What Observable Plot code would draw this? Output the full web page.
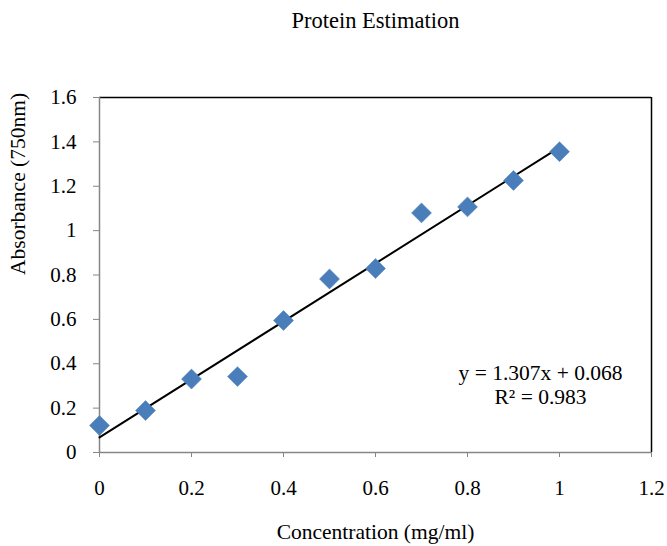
<!DOCTYPE html>
<html>
<head>
<meta charset="utf-8">
<script src="https://cdn.jsdelivr.net/npm/d3@7"></script>
<script src="https://cdn.jsdelivr.net/npm/@observablehq/plot@0.6"></script>
<style>
  html, body { margin: 0; padding: 0; background: #fff; }
  #chart svg { display: block; }
  #chart svg, #chart svg text { font-family: "Liberation Serif", serif !important; }
</style>
</head>
<body>
<div id="chart"></div>
<script>
const concentration = [0, 0.1, 0.2, 0.3, 0.4, 0.5, 0.6, 0.7, 0.8, 0.9, 1.0];
const absorbance = [0.122, 0.189, 0.331, 0.342, 0.595, 0.782, 0.829, 1.08, 1.107, 1.226, 1.356];
const slope = 1.307;
const intercept = 0.068;
const xTicks = [0, 0.2, 0.4, 0.6, 0.8, 1, 1.2];
const yTicks = [0, 0.2, 0.4, 0.6, 0.8, 1, 1.2, 1.4, 1.6];
const title = "Protein Estimation";
const xLabel = "Concentration (mg/ml)";
const yLabel = "Absorbance (750nm)";
const eqLine1 = "y = 1.307x + 0.068";
const eqLine2 = "R² = 0.983";

const points = concentration.map((c, i) => ({x: c, y: absorbance[i]}));
const trend = [0, 1].map(x => ({x, y: slope * x + intercept}));
const fmt = d => String(+d.toFixed(1));
const font = "Liberation Serif";

const chart = Plot.plot({
  width: 667,
  height: 546,
  marginLeft: 99,
  marginRight: 16,
  marginTop: 97,
  marginBottom: 94,
  style: {fontFamily: font, fontSize: "21px", color: "#000", background: "#fff"},
  x: {domain: [0, 1.2]},
  y: {domain: [0, 1.6]},
  marks: [
    Plot.ruleY([1.6], {stroke: "#000", strokeWidth: 1.5}),
    Plot.ruleX([1.2], {stroke: "#000", strokeWidth: 1.5}),
    Plot.ruleX([0], {stroke: "#868686", strokeWidth: 1.5}),
    Plot.ruleY([0], {stroke: "#868686", strokeWidth: 1.5}),
    Plot.axisX({ticks: xTicks, tickFormat: fmt, tickSize: 5, tickPadding: 23, stroke: "#868686", label: null, fontSize: 21, fontFamily: font, fill: "#000"}),
    Plot.axisY({ticks: yTicks, tickFormat: fmt, tickSize: 6, tickPadding: 17, stroke: "#868686", label: null, fontSize: 21, fontFamily: font, fill: "#000"}),
    Plot.line(trend, {x: "x", y: "y", stroke: "#000", strokeWidth: 2}),
    Plot.dot(points, {x: "x", y: "y", symbol: "diamond2", r: 9, fill: "#4a7ebb", stroke: "#4a7ebb", strokeWidth: 0.5}),
    Plot.text([title], {text: d => d, frameAnchor: "top", lineAnchor: "middle", dy: -77, fontSize: 22.5, fontFamily: font}),
    Plot.text([xLabel], {text: d => d, frameAnchor: "bottom", lineAnchor: "middle", dy: 80, fontSize: 21.5, fontFamily: font}),
    Plot.text([yLabel], {text: d => d, frameAnchor: "left", lineAnchor: "middle", rotate: -90, dx: -81, fontSize: 21.5, fontFamily: font}),
    Plot.text([eqLine1], {text: d => d, frameAnchor: "bottom-right", textAnchor: "middle", lineAnchor: "middle", dx: -111, dy: -79, fontSize: 21.5, fontFamily: font}),
    Plot.text([eqLine2], {text: d => d, frameAnchor: "bottom-right", textAnchor: "middle", lineAnchor: "middle", dx: -111, dy: -55, fontSize: 21.5, fontFamily: font})
  ]
});
document.getElementById("chart").appendChild(chart);
</script>
</body>
</html>
